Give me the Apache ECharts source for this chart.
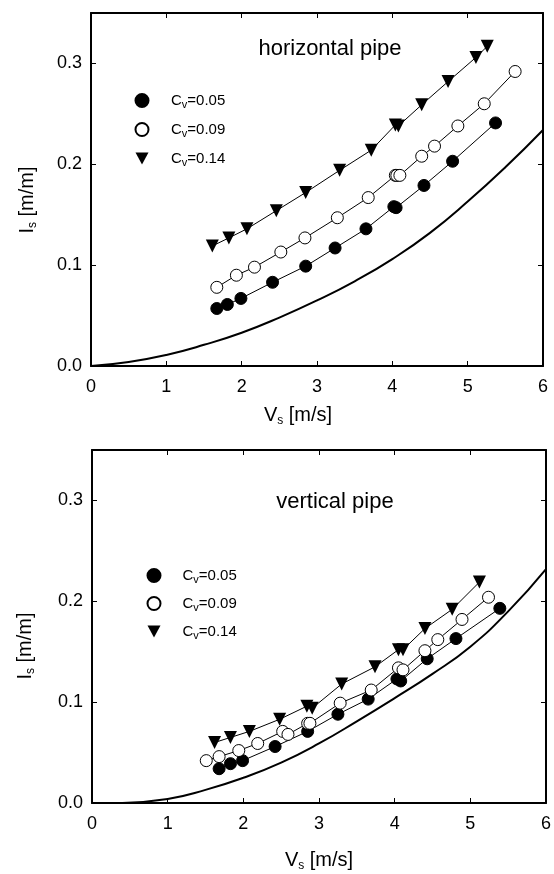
<!DOCTYPE html>
<html>
<head>
<meta charset="utf-8">
<script src="https://cdn.jsdelivr.net/npm/echarts@6/dist/echarts.min.js"></script>
<style>
html,body{margin:0;padding:0;background:#fff;}
#chart{width:554px;height:874px;}
</style>
</head>
<body>
<div id="chart"></div>
<script>
// ---------- data ----------
const xTickLabels = ['0','1','2','3','4','5','6'];
const yTickLabels = ['0.0','0.1','0.2','0.3'];
const legendNames = ['Cv=0.05','Cv=0.09','Cv=0.14'];
const panelTitles = ['horizontal pipe','vertical pipe'];

// horizontal pipe
const h05V = [1.67,1.81,1.99,2.41,2.85,3.24,3.65,4.02,4.05,4.42,4.80,5.37];
const h05I = [0.057,0.061,0.067,0.083,0.099,0.117,0.136,0.158,0.157,0.179,0.203,0.241];
const h09V = [1.67,1.93,2.17,2.52,2.84,3.27,3.68,4.04,4.06,4.10,4.39,4.56,4.87,5.22,5.63];
const h09I = [0.078,0.090,0.098,0.113,0.127,0.147,0.167,0.189,0.189,0.189,0.208,0.218,0.238,0.260,0.292];
const h14V = [1.61,1.83,2.07,2.46,2.85,3.30,3.72,4.04,4.08,4.39,4.74,5.11,5.26];
const h14I = [0.119,0.127,0.136,0.154,0.172,0.194,0.214,0.239,0.238,0.259,0.282,0.306,0.317];
const hModelV = [0,0.5,1,1.5,2,2.5,3,3.5,4,4.5,5,5.5,6];
const hModelI = [0,0.004,0.011,0.021,0.033,0.048,0.065,0.084,0.106,0.132,0.163,0.197,0.234];

// vertical pipe
const v05V = [1.68,1.83,1.99,2.42,2.85,3.25,3.65,4.03,4.08,4.43,4.81,5.39];
const v05I = [0.034,0.039,0.042,0.056,0.071,0.088,0.103,0.123,0.121,0.143,0.163,0.193];
const v09V = [1.51,1.68,1.94,2.19,2.52,2.59,2.85,2.88,3.28,3.69,4.05,4.11,4.40,4.57,4.89,5.24];
const v09I = [0.042,0.046,0.052,0.059,0.071,0.068,0.079,0.079,0.099,0.112,0.134,0.132,0.151,0.162,0.182,0.204];
const v14V = [1.62,1.83,2.08,2.48,2.84,2.91,3.30,3.74,4.05,4.11,4.40,4.76,5.12];
const v14I = [0.060,0.065,0.071,0.083,0.096,0.094,0.118,0.135,0.152,0.152,0.173,0.192,0.219];
const vModelV = [0.4,1,1.5,2,2.5,3,3.5,4,4.5,5,5.5,6];
const vModelI = [0,0.004,0.013,0.025,0.040,0.059,0.081,0.104,0.128,0.155,0.190,0.232];

// ---------- helpers ----------
const FONT = 'Liberation Sans, Arial, sans-serif';
const zip = (a, b) => a.map((v, i) => [v, b[i]]);

const markerStyles = [
  { symbol: 'circle', symbolSize: 12, itemStyle: { color: '#000', borderColor: '#000', borderWidth: 1, opacity: 1 } },
  { symbol: 'circle', symbolSize: 12, itemStyle: { color: '#fff', borderColor: '#000', borderWidth: 1, opacity: 1 } },
  { symbol: 'triangle', symbolSize: 13, symbolRotate: 180, itemStyle: { color: '#000', borderColor: '#000', borderWidth: 0, opacity: 1 } }
];

function axisCommon(showLabel) {
  return {
    axisLine: { show: true, onZero: false, lineStyle: { color: '#000', width: 2 } },
    axisTick: { show: true, inside: true, length: 5, lineStyle: { color: '#000', width: 1 } },
    splitLine: { show: false },
    axisLabel: { show: showLabel, color: '#000', fontSize: 18, fontFamily: FONT }
  };
}

const nameRich = {
  n: { fontSize: 20, fontFamily: FONT, color: '#000', lineHeight: 24 },
  s: { fontSize: 12, fontFamily: FONT, color: '#000', lineHeight: 12, verticalAlign: 'bottom' }
};

function xAxes(gi, nameGap, namePad) {
  return [
    Object.assign({
      type: 'value', gridIndex: gi, position: 'bottom', min: 0, max: 6, interval: 1,
      name: '{n|V}{s|s}{n| [m/s]}', nameLocation: 'middle', nameGap: nameGap,
      nameTextStyle: { rich: nameRich, padding: namePad }
    }, axisCommon(true), {
      axisLabel: { show: true, color: '#000', fontSize: 18, fontFamily: FONT, margin: 12,
        formatter: (v, i) => xTickLabels[i] !== undefined ? xTickLabels[i] : '' }
    }),
    Object.assign({ type: 'value', gridIndex: gi, position: 'top', min: 0, max: 6, interval: 1 }, axisCommon(false))
  ];
}

function yAxes(gi, nameGap, namePad) {
  return [
    Object.assign({
      type: 'value', gridIndex: gi, position: 'left', min: 0, max: 0.35, interval: 0.1,
      name: '{n|I}{s|s}{n| [m/m]}', nameLocation: 'middle', nameGap: nameGap,
      nameTextStyle: { rich: nameRich, padding: namePad }
    }, axisCommon(true), {
      axisLabel: { show: true, color: '#000', fontSize: 18, fontFamily: FONT, margin: 9, showMaxLabel: false,
        formatter: (v, i) => yTickLabels[i] !== undefined ? yTickLabels[i] : '' }
    }),
    Object.assign({ type: 'value', gridIndex: gi, position: 'right', min: 0, max: 0.35, interval: 0.1 }, axisCommon(false))
  ];
}

function panelSeries(gi, sets, model) {
  const out = [];
  out.push({
    type: 'line', xAxisIndex: gi * 2, yAxisIndex: gi * 2, data: zip(model[0], model[1]),
    showSymbol: false, symbol: 'none', smooth: 0.5, silent: true,
    lineStyle: { color: '#000', width: 2 }, z: 2
  });
  sets.forEach((s) => {
    out.push({
      type: 'line', xAxisIndex: gi * 2, yAxisIndex: gi * 2, data: zip(s[0], s[1]),
      showSymbol: false, symbol: 'none', smooth: false, silent: true,
      lineStyle: { color: '#000', width: 1 }, z: 3
    });
  });
  sets.forEach((s, k) => {
    out.push(Object.assign({
      type: 'scatter', name: legendNames[k], xAxisIndex: gi * 2, yAxisIndex: gi * 2,
      data: zip(s[0], s[1]), z: 5, silent: true
    }, markerStyles[k]));
  });
  return out;
}

const legendRich = {
  p: { fontSize: 15, fontFamily: FONT, color: '#000', lineHeight: 20, padding: [0, 0, 0, 0] },
  c: { fontSize: 15, fontFamily: FONT, color: '#000', lineHeight: 20 },
  s: { fontSize: 11, fontFamily: FONT, color: '#000', lineHeight: 10, verticalAlign: 'bottom' }
};

function legend(left, top, padLeft, gap) {
  const rich = JSON.parse(JSON.stringify(legendRich));
  rich.p.padding = [0, 0, 0, padLeft];
  return {
    orient: 'vertical', left: left, top: top, padding: 0, itemWidth: 13, itemHeight: 13, itemGap: gap,
    selectedMode: false,
    data: [
      { name: legendNames[0], icon: 'circle' },
      { name: legendNames[1], icon: 'circle' },
      { name: legendNames[2], icon: 'path://M0,0L12,0L6,11Z' }
    ],
    formatter: (name) => '{p|C}{s|v}{c|' + name.slice(2) + '}',
    textStyle: { rich: rich }
  };
}

const option = {
  backgroundColor: '#fff',
  animation: false,
  grid: [
    { left: 91, top: 13, width: 452, height: 353, show: false },
    { left: 92, top: 450, width: 454, height: 353, show: false }
  ],
  xAxis: [].concat(xAxes(0, 37, [0, 38, 0, 0]), xAxes(1, 45, [0, 0, 0, 0])),
  yAxis: [].concat(yAxes(0, 52, [0, 21, 0, 0]), yAxes(1, 55, [0, 39, 0, 0])),
  legend: [legend(134.5, 93, 17.5, 11.5), legend(146.5, 568, 17, 10.5)],
  graphic: [
    { type: 'text', x: 330, y: 49, style: { text: panelTitles[0], fill: '#000', font: '22px ' + FONT, textAlign: 'center', textVerticalAlign: 'middle' } },
    { type: 'text', x: 335, y: 502, style: { text: panelTitles[1], fill: '#000', font: '22px ' + FONT, textAlign: 'center', textVerticalAlign: 'middle' } }
  ],
  series: [].concat(
    panelSeries(0, [[h05V, h05I], [h09V, h09I], [h14V, h14I]], [hModelV, hModelI]),
    panelSeries(1, [[v05V, v05I], [v09V, v09I], [v14V, v14I]], [vModelV, vModelI])
  )
};

const chart = echarts.init(document.getElementById('chart'), null, { renderer: 'canvas' });
chart.setOption(option);
</script>
</body>
</html>
